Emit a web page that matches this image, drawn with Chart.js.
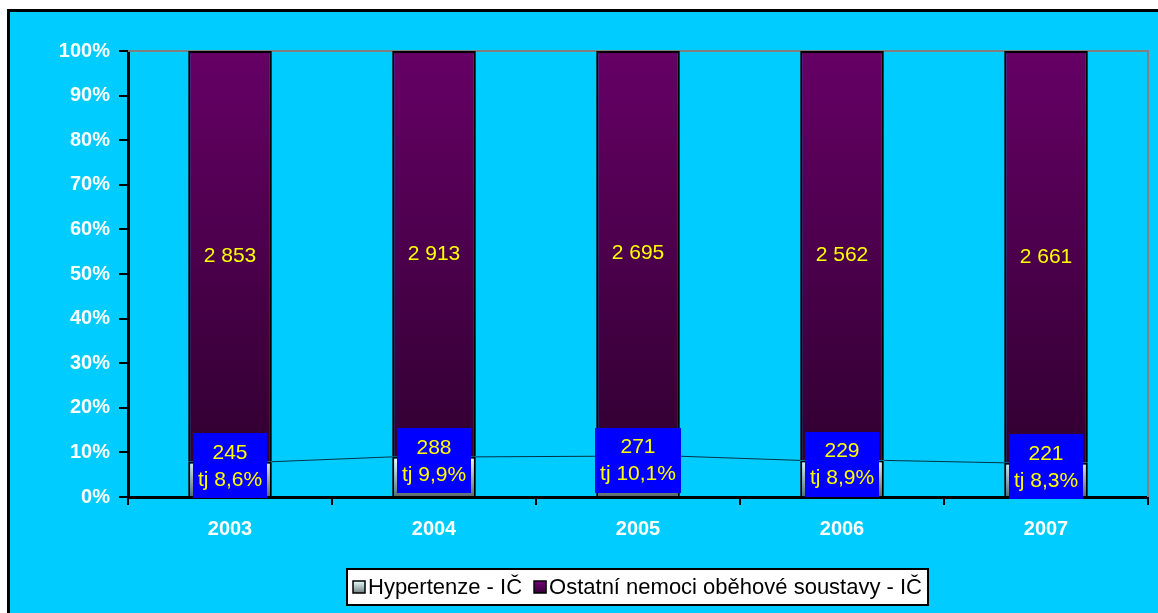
<!DOCTYPE html>
<html>
<head>
<meta charset="utf-8">
<title>Hypertenze - IČ</title>
<script src="https://cdn.jsdelivr.net/npm/chart.js@4.4.1/dist/chart.umd.min.js"></script>
<style>
  html, body { margin: 0; padding: 0; background: #fff; }
  canvas { display: block; }
</style>
</head>
<body>
<canvas id="graf" width="1158" height="613"></canvas>
<script>
// data
const years = ['2003', '2004', '2005', '2006', '2007'];
const hypertenze = [245, 288, 271, 229, 221];
const ostatni = [2853, 2913, 2695, 2562, 2661];
const podil = ['8,6', '9,9', '10,1', '8,9', '8,3'];   // hypertenze vs. ostatni, %
const seriesNames = ['Hypertenze - IČ', 'Ostatní nemoci oběhové soustavy - IČ'];

const FONT = "'Liberation Sans', Arial, sans-serif";

// 100% stacked shares
const totals = hypertenze.map((v, i) => v + ostatni[i]);
const hyperPct = hypertenze.map((v, i) => v / totals[i] * 100);
const ostatniPct = ostatni.map((v, i) => v / totals[i] * 100);

function fmt(n) {
    return String(n).replace(/\B(?=(\d{3})+(?!\d))/g, ' ');
}

function purpleFill(ctx) {
    const area = ctx.chart.chartArea;
    if (!area) return '#550055';
    const g = ctx.chart.ctx.createLinearGradient(0, area.top, 0, area.bottom - 35);
    g.addColorStop(0, '#660066');
    g.addColorStop(1, '#300030');
    return g;
}

function greyFill(ctx) {
    const area = ctx.chart.chartArea;
    if (!area) return '#a0b0b0';
    const y = ctx.chart.scales.y;
    const g = ctx.chart.ctx.createLinearGradient(0, y.getPixelForValue(9), 0, area.bottom);
    g.addColorStop(0, '#f4ffff');
    g.addColorStop(1, '#5a6a6a');
    return g;
}

// frame, plot-area lines, series lines, labels and legend
const decor = {
    id: 'decor',
    beforeDraw(chart) {
        const c = chart.ctx;
        c.save();
        c.fillStyle = '#fff';
        c.fillRect(0, 0, chart.width, chart.height);
        c.fillStyle = '#000';
        c.fillRect(7, 9, chart.width - 7, chart.height - 9);
        c.fillStyle = '#00ccff';
        c.fillRect(10, 12, chart.width - 10, chart.height - 12);
        c.restore();
    },
    beforeDatasetsDraw(chart) {
        const c = chart.ctx, a = chart.chartArea;
        c.save();
        c.strokeStyle = '#808080';
        c.lineWidth = 2;
        c.beginPath();
        c.moveTo(a.left, a.top);
        c.lineTo(a.right, a.top);
        c.lineTo(a.right, a.bottom);
        c.stroke();
        c.restore();
    },
    afterDatasetsDraw(chart) {
        const c = chart.ctx;
        const low = chart.getDatasetMeta(0).data;
        const high = chart.getDatasetMeta(1).data;
        c.save();

        // series lines between the lower segments
        c.strokeStyle = '#003344';
        c.lineWidth = 1;
        for (let i = 0; i < low.length - 1; i++) {
            const a = low[i], b = low[i + 1];
            c.beginPath();
            c.moveTo(a.x + a.width / 2, a.y);
            c.lineTo(b.x - b.width / 2, b.y);
            c.stroke();
        }

        c.textAlign = 'center';
        c.textBaseline = 'middle';
        c.font = '21px ' + FONT;

        // values in the upper segments
        c.fillStyle = '#ffff00';
        high.forEach((bar, i) => {
            c.fillText(fmt(ostatni[i]), bar.x, (bar.y + bar.base) / 2);
        });

        // boxed labels for the lower segments
        low.forEach((bar, i) => {
            const l1 = fmt(hypertenze[i]);
            const l2 = 'tj ' + podil[i] + '%';
            const w = Math.max(c.measureText(l1).width, c.measureText(l2).width) + 10;
            const h = 65;
            const cy = bar.y + 4;
            c.fillStyle = '#0000ff';
            c.fillRect(Math.round(bar.x - w / 2), Math.round(cy - h / 2), Math.round(w), h);
            c.fillStyle = '#ffff00';
            c.fillText(l1, bar.x, cy - 13);
            c.fillText(l2, bar.x, cy + 14);
        });
        c.restore();
    },
    afterDraw(chart) {
        const c = chart.ctx, a = chart.chartArea;
        c.save();
        c.font = '22px ' + FONT;
        c.textBaseline = 'middle';
        const box = 12, gapIn = 3, gapOut = 12, pad = 6;
        const widths = seriesNames.map(t => c.measureText(t).width);
        let total = pad * 2;
        widths.forEach((w, i) => { total += box + gapIn + w + (i ? 0 : gapOut); });
        const left = Math.round((a.left + a.right) / 2 - total / 2);
        const top = 569, height = 36, cy = top + height / 2;

        c.fillStyle = '#fff';
        c.fillRect(left, top, total, height);
        c.strokeStyle = '#000';
        c.lineWidth = 2;
        c.strokeRect(left, top, total, height);

        let x = left + pad;
        const fills = [];
        let g = c.createLinearGradient(0, cy - box / 2, 0, cy + box / 2);
        g.addColorStop(0, '#e8ffff');
        g.addColorStop(1, '#708080');
        fills.push(g);
        g = c.createLinearGradient(0, cy - box / 2, 0, cy + box / 2);
        g.addColorStop(0, '#770077');
        g.addColorStop(1, '#330033');
        fills.push(g);

        seriesNames.forEach((t, i) => {
            c.fillStyle = fills[i];
            c.fillRect(x, cy - box / 2, box, box);
            c.strokeStyle = '#000';
            c.lineWidth = 1.5;
            c.strokeRect(x, cy - box / 2, box, box);
            x += box + gapIn;
            c.fillStyle = '#000';
            c.textAlign = 'left';
            c.fillText(t, x, cy + 1);
            x += widths[i] + gapOut;
        });
        c.restore();
    }
};

new Chart(document.getElementById('graf'), {
    type: 'bar',
    data: {
        labels: years,
        datasets: [{
            label: seriesNames[0],
            data: hyperPct,
            backgroundColor: greyFill,
            borderColor: '#000',
            borderWidth: 2
        }, {
            label: seriesNames[1],
            data: ostatniPct,
            backgroundColor: purpleFill,
            borderColor: '#000',
            borderWidth: 2
        }]
    },
    options: {
        responsive: false,
        devicePixelRatio: 1,
        animation: false,
        datasets: {
            bar: { barPercentage: 0.41, categoryPercentage: 1 }
        },
        layout: { padding: { left: 0, right: 10, top: 51, bottom: 0 } },
        plugins: {
            legend: { display: false },
            tooltip: { enabled: false }
        },
        scales: {
            x: {
                stacked: true,
                grid: {
                    offset: true,
                    drawOnChartArea: false,
                    color: '#000',
                    lineWidth: 2,
                    tickLength: 8
                },
                border: { color: '#000', width: 3 },
                ticks: {
                    color: '#fff',
                    font: { family: FONT, size: 20, weight: 'bold' },
                    padding: 12,
                    maxRotation: 0
                },
                afterFit(s) { s.height = 116; }
            },
            y: {
                stacked: true,
                min: 0,
                max: 100,
                grid: {
                    drawOnChartArea: false,
                    color: '#000',
                    lineWidth: 2,
                    tickLength: 9
                },
                border: { color: '#000', width: 3 },
                ticks: {
                    stepSize: 10,
                    color: '#fff',
                    font: { family: FONT, size: 20, weight: 'bold' },
                    padding: 9,
                    callback: v => v + '%'
                },
                afterFit(s) { s.width = 128; }
            }
        }
    },
    plugins: [decor]
});
</script>
</body>
</html>
